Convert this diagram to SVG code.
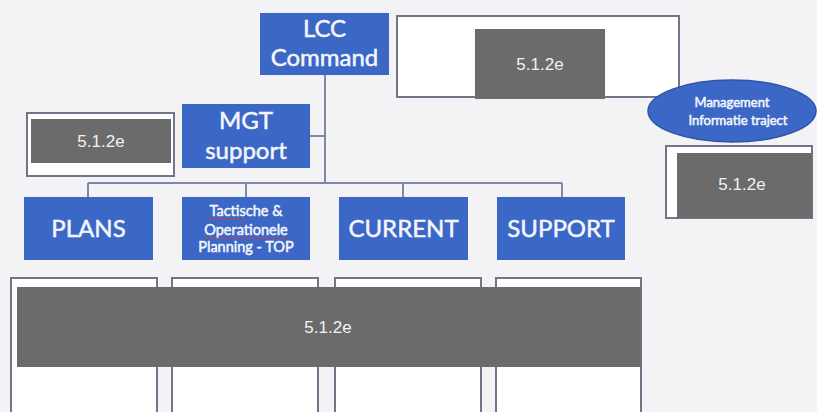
<svg xmlns="http://www.w3.org/2000/svg" width="817" height="412" viewBox="0 0 817 412">
<style>
.blue{fill:#3b67c6;}
.bt{font-family:Lato,"Open Sans",sans-serif;fill:#f4f6fb;text-anchor:middle;stroke:#f4f6fb;stroke-width:0.5;}
.out{fill:#ffffff;stroke:#6e7687;stroke-width:2;}
.red{fill:#6b6b6b;}
.rt{font-family:"Liberation Sans",Arial,sans-serif;font-size:17px;fill:#f2f2f2;text-anchor:middle;}
.con{fill:none;stroke:#7e89a6;stroke-width:2;}
.sq{fill:none;stroke:#d04040;stroke-width:0.8;}
</style>
<rect width="817" height="412" fill="#f3f2f5"/>
<g id="connectors">
<path class="con" d="M325 75V183M310 136H325M88 183H562M88 183V197M246 183V197M403 183V197M562 183V197"/>
</g>
<g id="lcc-command">
<rect class="blue" x="260" y="13" width="129" height="62"/>
<text class="bt" x="324.5" y="37" font-size="24">LCC</text>
<text class="bt" x="324.5" y="66" font-size="24">Command</text>
</g>
<g id="redacted-top">
<rect class="out" x="397" y="16" width="282" height="81"/>
<rect class="red" x="475" y="29" width="130" height="70"/>
<text class="rt" x="540" y="70">5.1.2e</text>
</g>
<g id="management-informatie">
<ellipse cx="732" cy="111" rx="84" ry="31" fill="#3b67c6" stroke="#2e55a8" stroke-width="1.5"/>
<text class="bt" x="732" y="107" font-size="13" stroke-width="0.2">Management</text>
<text class="bt" x="738" y="125" font-size="13" stroke-width="0.2">Informatie traject</text>
</g>
<g id="redacted-right">
<rect class="out" x="666" y="146" width="146" height="72"/>
<rect class="red" x="677" y="153" width="135" height="65"/>
<text class="rt" x="742" y="190" font-size="15">5.1.2e</text>
</g>
<g id="mgt-support">
<rect class="blue" x="182" y="104" width="128" height="64"/>
<text class="bt" x="246" y="129" font-size="24">MGT</text>
<text class="bt" x="246" y="159" font-size="24">support</text>
</g>
<g id="redacted-left">
<rect class="out" x="27" y="113" width="147" height="63"/>
<rect class="red" x="31" y="119" width="140" height="44"/>
<text class="rt" x="101" y="147">5.1.2e</text>
</g>
<g id="plans">
<rect class="blue" x="24" y="197" width="129" height="63"/>
<text class="bt" x="88.5" y="237" font-size="24">PLANS</text>
</g>
<g id="top">
<rect class="blue" x="182" y="197" width="128" height="63"/>
<text class="bt" x="246" y="216" font-size="14.5" stroke-width="0.3">Tactische &amp;</text>
<text class="bt" x="246" y="235" font-size="14.5" stroke-width="0.3">Operationele</text>
<text class="bt" x="246" y="252" font-size="14.5" stroke-width="0.3">Planning - TOP</text>
<path class="sq" d="M208 219H247M203 238H290"/>
</g>
<g id="current">
<rect class="blue" x="339" y="197" width="129" height="63"/>
<text class="bt" x="403.5" y="237" font-size="24">CURRENT</text>
</g>
<g id="support">
<rect class="blue" x="497" y="197" width="128" height="63"/>
<text class="bt" x="561" y="237" font-size="24">SUPPORT</text>
</g>
<g id="columns">
<rect class="out" x="11" y="278" width="146" height="140"/>
<rect class="out" x="172" y="278" width="146" height="140"/>
<rect class="out" x="335" y="278" width="146" height="140"/>
<rect class="out" x="496" y="278" width="145" height="140"/>
</g>
<g id="redacted-bottom">
<rect class="red" x="17" y="287" width="624" height="80"/>
<text class="rt" x="328" y="333">5.1.2e</text>
</g>
</svg>
